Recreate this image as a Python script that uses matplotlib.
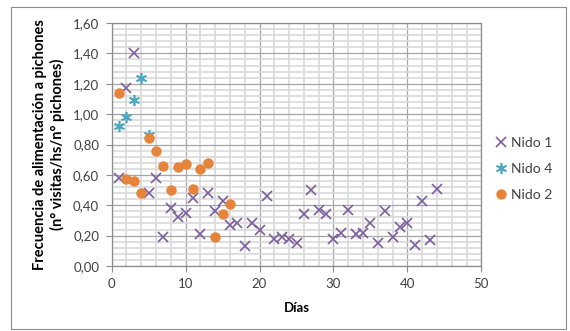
import matplotlib.pyplot as plt
from matplotlib.ticker import MultipleLocator

# Nido 1 (day, frequency)
dias_n1 = [1, 2, 3, 5, 6, 7, 8, 9, 10, 11, 12, 13, 14, 15, 16, 17, 18, 19, 20, 21, 22,
           23, 24, 25, 26, 27, 28, 29, 30, 31, 32, 33, 34, 35, 36, 37, 38, 39, 40, 41,
           42, 43, 44]
frec_n1 = [0.58, 1.17, 1.40, 0.48, 0.58, 0.19, 0.38, 0.32, 0.35, 0.45, 0.21, 0.48, 0.36,
           0.43, 0.27, 0.28, 0.13, 0.28, 0.24, 0.46, 0.18, 0.19, 0.18, 0.15, 0.34, 0.50,
           0.37, 0.34, 0.18, 0.22, 0.37, 0.21, 0.22, 0.28, 0.15, 0.36, 0.19, 0.26, 0.28,
           0.14, 0.43, 0.17, 0.51]

# Nido 4
dias_n4 = [1, 2, 3, 4, 5]
frec_n4 = [0.92, 0.98, 1.09, 1.24, 0.86]

# Nido 2
dias_n2 = [1, 2, 3, 4, 5, 6, 7, 8, 9, 10, 11, 12, 13, 14, 15, 16]
frec_n2 = [1.14, 0.57, 0.56, 0.48, 0.84, 0.76, 0.66, 0.50, 0.65, 0.67, 0.51, 0.64,
           0.68, 0.19, 0.34, 0.41]

plt.rcParams['font.family'] = ['Lato', 'DejaVu Sans']

fig = plt.figure(figsize=(5.7, 3.31), dpi=100)
ax = fig.add_axes([111.7 / 570, 1 - 266 / 331, (481.3 - 111.7) / 570, (266 - 23) / 331])

# outer chart border
fig.patches.append(plt.Rectangle((11 / 570, 2 / 331), 555 / 570, 322 / 331,
                                 transform=fig.transFigure, fill=False,
                                 edgecolor='#8c8c8c', linewidth=0.8))

ax.plot(dias_n1, frec_n1, linestyle='none', marker='x', markersize=7,
        markeredgewidth=1.2, color='#7a5e9e', label='Nido 1', zorder=3)
ax.plot(dias_n4, frec_n4, linestyle='none', marker=(6, 2, 0), markersize=8,
        markeredgewidth=1.2, color='#4aa8c0', label='Nido 4', zorder=3)
ax.plot(dias_n2, frec_n2, linestyle='none', marker='o', markersize=7.5,
        markeredgewidth=0, color='#e5843a', label='Nido 2', zorder=4)

ax.set_xlim(0, 50)
ax.set_ylim(0, 1.6)
ax.xaxis.set_major_locator(MultipleLocator(10))
ax.xaxis.set_minor_locator(MultipleLocator(2))
ax.yaxis.set_major_locator(MultipleLocator(0.2))
ax.yaxis.set_minor_locator(MultipleLocator(0.04))
ax.yaxis.set_major_formatter(lambda v, pos: f'{v:.2f}'.replace('.', ','))

ax.grid(which='minor', color='#d9d9d9', linewidth=1.2)
ax.grid(which='major', color='#a6a6a6', linewidth=0.9)
ax.set_axisbelow(True)

for side in ['left', 'bottom', 'top', 'right']:
    ax.spines[side].set_color('#8c8c8c')
    ax.spines[side].set_linewidth(0.9)
ax.tick_params(which='major', direction='out', length=4, color='#8c8c8c',
               labelsize=9.5, labelcolor='#404040', pad=5)
ax.tick_params(which='minor', length=0)

ax.set_xlabel('Días', fontsize=9.5, fontweight='bold', labelpad=8)
ax.set_ylabel('Frecuencia de alimentación a pichones\n(n° visitas/hs/n° pichones)',
              fontsize=10.5, fontweight='bold', labelpad=6, linespacing=1.25)

ax.legend(loc='center left', bbox_to_anchor=(1.005, 0.40), frameon=False,
          fontsize=10, handlelength=0.8, handletextpad=0.3, labelspacing=1.0,
          labelcolor='#404040')

fig.savefig('out.png', dpi=100)
